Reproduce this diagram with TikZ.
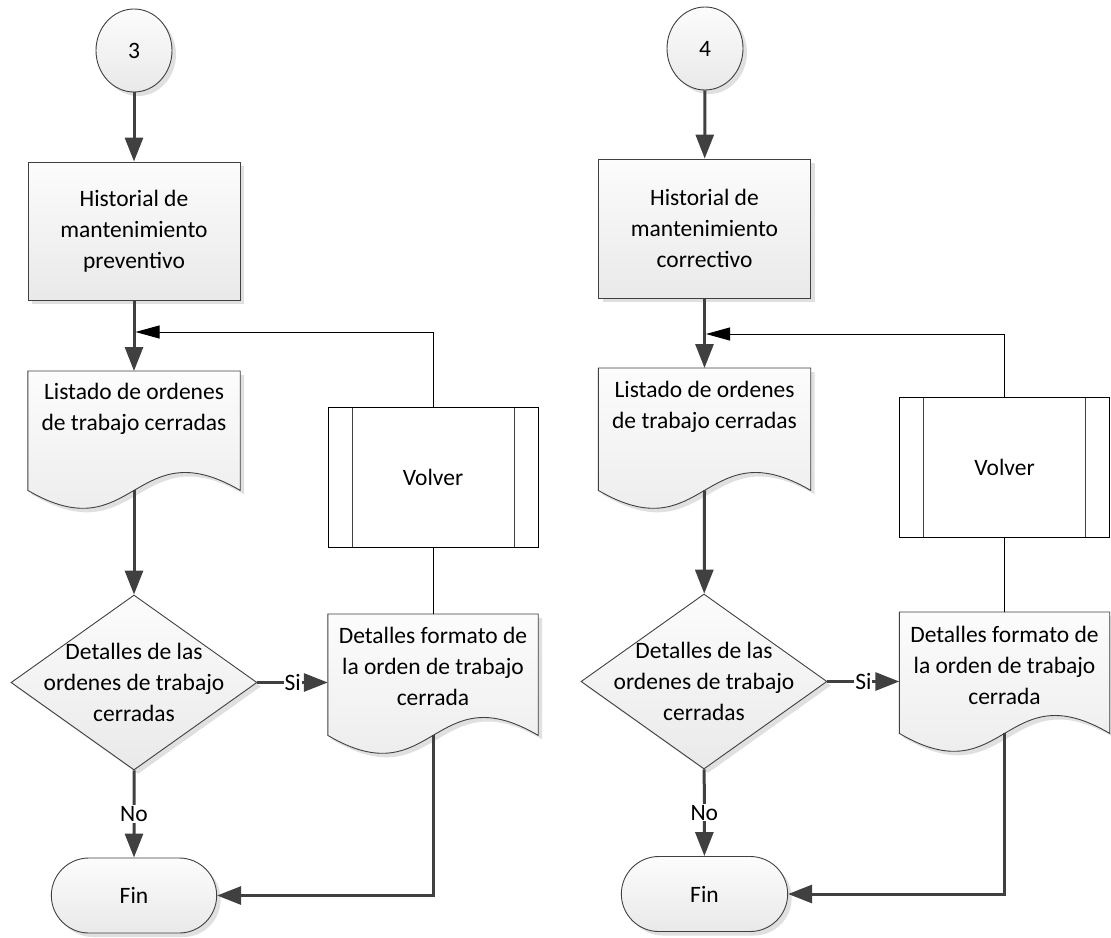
\documentclass[tikz,border=0pt]{standalone}
\usepackage{fontspec}
\setmainfont{Carlito}
\usetikzlibrary{arrows.meta,shapes.geometric,shapes.misc,shadows,backgrounds}
\definecolor{G0}{RGB}{64,64,64}
\definecolor{G1}{RGB}{252,252,252}
\definecolor{G2}{RGB}{233,233,233}

\tikzset{
  box/.style={draw=G0, line width=0.9pt, top color=G1, bottom color=G2,
    drop shadow={shadow xshift=4pt, shadow yshift=-4pt, fill=black, opacity=0.12}},
  conn/.style={box, ellipse, minimum width=76pt, minimum height=83pt, inner sep=0pt},
  proc/.style={box, rectangle, minimum width=212pt, minimum height=138pt, align=center},
  doctext/.style={rectangle, minimum width=212pt, anchor=north, align=center},
  decision/.style={box, diamond, minimum width=246pt, minimum height=175pt, inner sep=0pt},
  term/.style={box, rounded rectangle, minimum width=172pt, minimum height=75pt},
  subproc/.style={draw=black, line width=0.9pt, fill=white, minimum width=210pt, minimum height=140pt,
    path picture={
      \draw[G0, line width=0.9pt] ([xshift=24pt]path picture bounding box.north west) -- ([xshift=24pt]path picture bounding box.south west);
      \draw[G0, line width=0.9pt] ([xshift=-24pt]path picture bounding box.north east) -- ([xshift=-24pt]path picture bounding box.south east);}},
  flow/.style={draw=G0, line width=3pt, -{Triangle[length=24pt,width=18pt]}},
  back/.style={draw=black, line width=1pt},
  backin/.style={back, -{Triangle[length=24pt,width=13pt]}},
  lbl/.style={fill=white, inner sep=1pt}
}

% wavy bottom of a document symbol, #2 = depth of the side below the text box
\newcommand{\docoutline}[2]{%
  \path[box] (#1.north west) -- (#1.north east)
    -- ([yshift=-#2pt]#1.south east)
    .. controls ([yshift=-#2pt+62pt]#1.south) and ([yshift=-#2pt-62pt]#1.south)
    .. ([yshift=-#2pt]#1.south west) -- cycle;
  \coordinate (#1-out) at ([yshift=-#2pt]#1.south);
}

\begin{document}
\begin{tikzpicture}[x=1pt, y=-1pt, font=\fontsize{23.5}{31}\selectfont]
  \useasboundingbox (0,0) rectangle (1111,937);

  % preventivo
  \node[conn] (c3) at (134,50.5) {3};
  \node[proc] (hist3) at (134,231) {Historial de\\mantenimiento\\preventivo};
  \node[doctext, minimum height=76pt] (list3) at (134,371) {Listado de ordenes\\de trabajo cerradas};
  \node[decision, label={[align=center]center:Detalles de las\\ordenes de trabajo\\cerradas}] (dec3) at (134,682.5) {};
  \node[doctext, minimum width=210pt, minimum height=104pt] (det3) at (433,614) {Detalles formato de\\la orden de trabajo\\cerrada};
  \node[subproc] (volv3) at (433,477) {Volver};
  \node[term] (fin3) at (134,895.5) {Fin};
  \coordinate (join3) at (135.5,332);

  % correctivo
  \node[conn] (c4) at (705,48.5) {4};
  \node[proc, minimum height=139pt] (hist4) at (704.5,228.5) {Historial de\\mantenimiento\\correctivo};
  \node[doctext, minimum height=78pt] (list4) at (704.5,368) {Listado de ordenes\\de trabajo cerradas};
  \node[decision, label={[align=center]center:Detalles de las\\ordenes de trabajo\\cerradas}] (dec4) at (704,681.5) {};
  \node[doctext, minimum width=210pt, minimum height=106pt] (det4) at (1004.5,612) {Detalles formato de\\la orden de trabajo\\cerrada};
  \node[subproc] (volv4) at (1004.5,467.5) {Volver};
  \node[term, minimum width=173pt] (fin4) at (704.5,894) {Fin};
  \coordinate (join4) at (706,334);

  \begin{scope}[on background layer]
    \docoutline{list3}{43}
    \docoutline{det3}{17}
    \docoutline{list4}{44}
    \docoutline{det4}{15}
  \end{scope}

  \draw[flow] (c3) -- (hist3);
  \draw[flow] (hist3) -- (list3);
  \draw[flow] (list3-out) -- (dec3);
  \draw[flow] (dec3.east) -- node[lbl] {Si} (dec3.east -| det3.west);
  \draw[flow] (dec3) -- node[lbl] {No} (fin3);
  \draw[flow] (det3-out) |- (fin3.east);
  \draw[back] (det3.north) -- (volv3.south);
  \draw[backin] (volv3.north) |- (join3);

  \draw[flow] (c4) -- (hist4);
  \draw[flow] (hist4) -- (list4);
  \draw[flow] (list4-out) -- (dec4);
  \draw[flow] (dec4.east) -- node[lbl] {Si} (dec4.east -| det4.west);
  \draw[flow] (dec4) -- node[lbl] {No} (fin4);
  \draw[flow] (det4-out) |- (fin4.east);
  \draw[back] (det4.north) -- (volv4.south);
  \draw[backin] (volv4.north) |- (join4);
\end{tikzpicture}
\end{document}
